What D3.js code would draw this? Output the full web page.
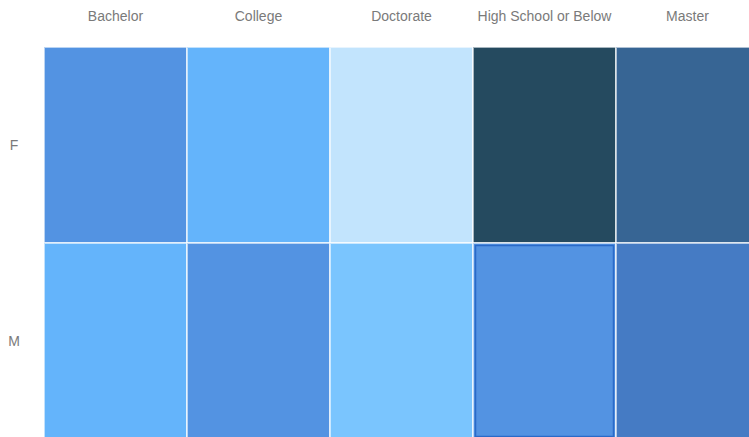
<!DOCTYPE html>
<html lang="en">
<head>
  <meta charset="UTF-8"/>
  <title>Education by Gender</title>
  <style>
    *{margin:0;padding:0;box-sizing:border-box}
    body{background:#fff;overflow:hidden;font-family:"Liberation Sans",Arial,sans-serif}
    svg{display:block}
    .lbl{fill:#7a7a7a;font-size:14px}
  </style>
</head>
<body>
  <div id="chart"></div>
  <script src="https://d3js.org/d3.v7.min.js"></script>
  <script>
    // categories
    const education = ['Bachelor','College','Doctorate','High School or Below','Master'];
    const genders = ['F','M'];

    // counts per gender, same order as education
    const valuesF = [35, 25, 5, 66, 55];
    const valuesM = [27, 36, 15, 34, 45];

    // sequential palette, light to dark
    const palette = ['#c2e4fd','#7ac5fe','#64b4fb','#5393e2','#457bc4','#376594','#254a5f'];

    const highlighted = {g:'M', e:'High School or Below'};

    const width = 749, height = 437;
    const margin = {top:47, left:44};
    const cellW = 143, cellH = 196;

    const cells = [];
    genders.forEach((g,i) => {
      const vals = i === 0 ? valuesF : valuesM;
      education.forEach((e,j) => cells.push({g, e, v: vals[j]}));
    });

    const x = d3.scaleBand().domain(education)
      .range([margin.left, margin.left + cellW*education.length]);
    const y = d3.scaleBand().domain(genders)
      .range([margin.top, margin.top + cellH*genders.length]);
    const color = d3.scaleQuantize().domain([0,70]).range(palette);

    const svg = d3.select('#chart').append('svg')
      .attr('width', width).attr('height', height);

    svg.selectAll('rect.cell')
      .data(cells)
      .join('rect')
      .attr('class','cell')
      .attr('x', d => x(d.e))
      .attr('y', d => y(d.g))
      .attr('width', x.bandwidth())
      .attr('height', y.bandwidth())
      .attr('fill', d => color(d.v))
      .attr('stroke','#fff')
      .attr('stroke-opacity',.6)
      .attr('stroke-width',2);

    // hovered cell outline
    const h = cells.find(d => d.g === highlighted.g && d.e === highlighted.e);
    svg.append('rect')
      .attr('x', x(h.e)+2.5).attr('y', y(h.g)+2.5)
      .attr('width', x.bandwidth()-5).attr('height', y.bandwidth()-5)
      .attr('fill','none')
      .attr('stroke','#2a6ac8')
      .attr('stroke-width',1.5);

    // column labels
    svg.selectAll('text.col')
      .data(education)
      .join('text')
      .attr('class','lbl col')
      .attr('x', d => x(d) + x.bandwidth()/2)
      .attr('y', 21)
      .attr('text-anchor','middle')
      .text(d => d);

    // row labels
    svg.selectAll('text.row')
      .data(genders)
      .join('text')
      .attr('class','lbl row')
      .attr('x', 14)
      .attr('y', d => y(d) + y.bandwidth()/2 + 5)
      .attr('text-anchor','middle')
      .text(d => d);
  </script>
</body>
</html>
